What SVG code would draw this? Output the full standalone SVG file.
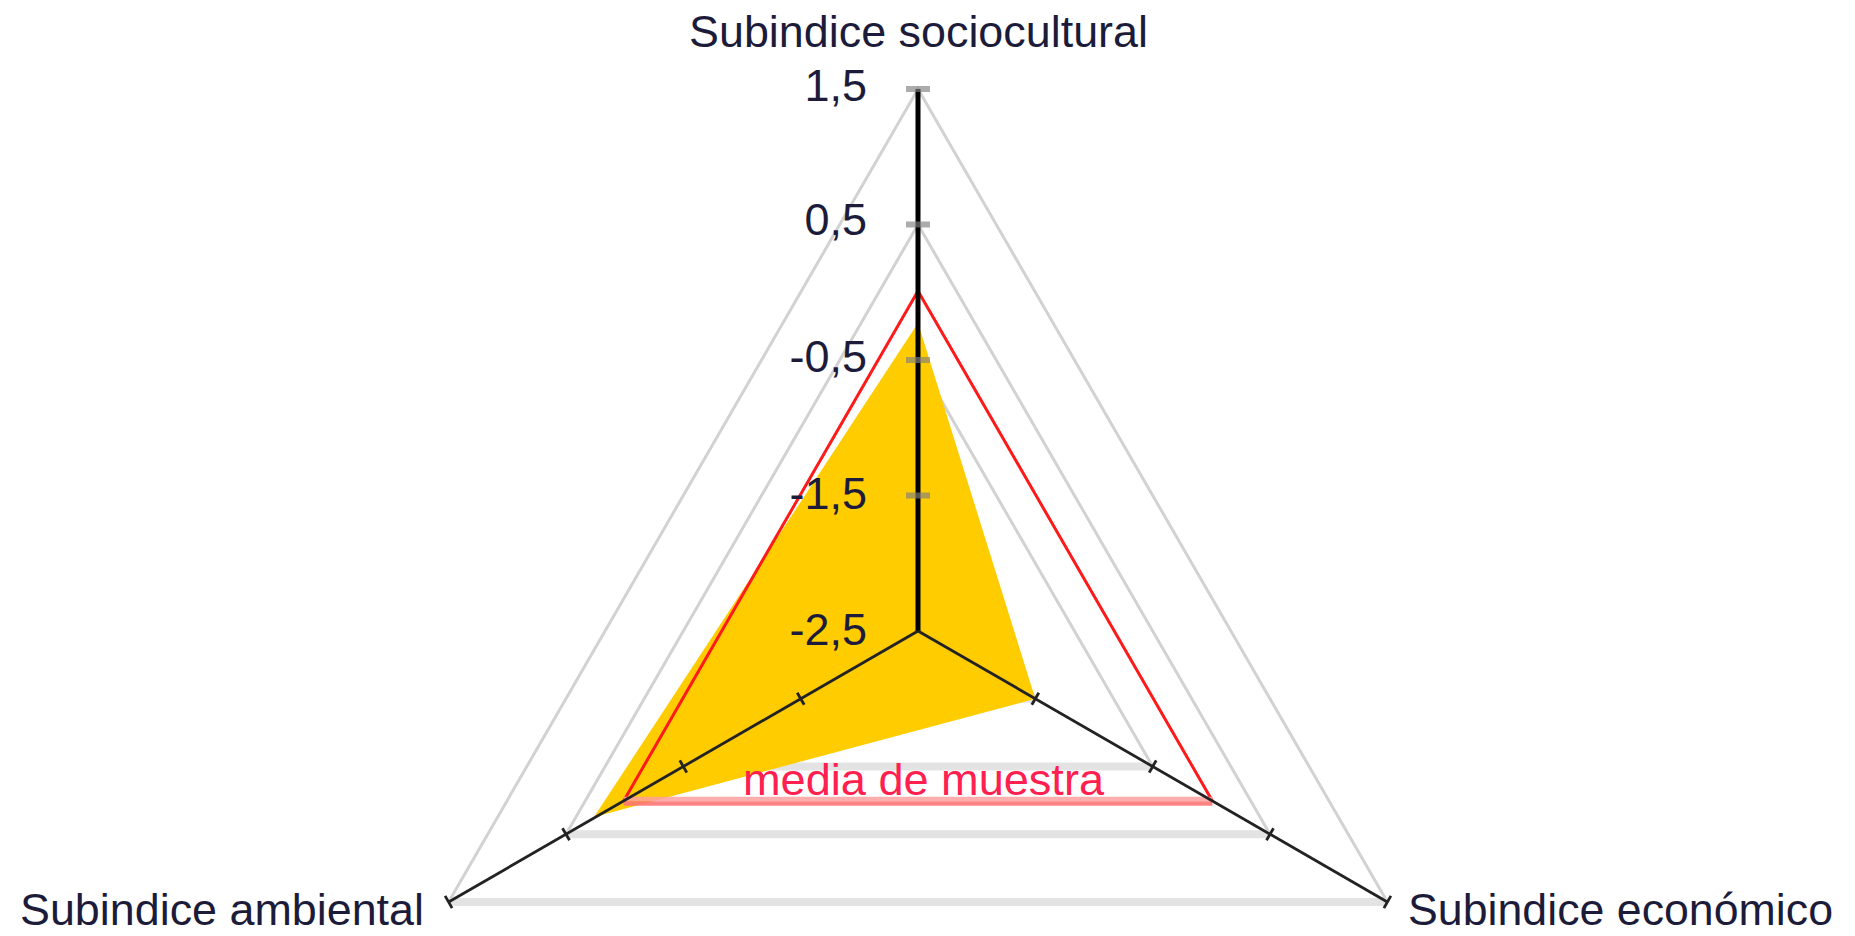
<svg xmlns="http://www.w3.org/2000/svg" width="1855" height="936" viewBox="0 0 1855 936">
<style>
.gside{fill:none;stroke:#d2d2d2;stroke-width:3}
.gbase{stroke:#e3e3e3;stroke-width:8}
.lbl{font-family:"Liberation Sans",Arial,sans-serif;font-size:45px;fill:#1c1c3a}
.tick{font-family:"Liberation Sans",Arial,sans-serif;font-size:45px;fill:#1c1c3a;text-anchor:end}
.ax{stroke:#222222;stroke-width:2.8;fill:none}
.vt{stroke:#808080;stroke-opacity:0.65;stroke-width:6}
</style>
<rect width="1855" height="936" fill="#ffffff"/>
<g id="grid">
<polyline class="gside" points="448.6,902 918,89 1387.4,902"/>
<polyline class="gside" points="566,834.25 918,224.5 1270,834.25"/>
<polyline class="gside" points="683.3,766.5 918,360 1152.7,766.5"/>
<polyline class="gside" points="800.7,698.75 918,495.5 1035.3,698.75"/>
<line class="gbase" x1="448.6" y1="902" x2="1387.4" y2="902"/>
<line class="gbase" x1="566" y1="834.25" x2="1270" y2="834.25"/>
<line class="gbase" x1="683.3" y1="766.5" x2="1152.7" y2="766.5"/>
<line class="gbase" x1="800.7" y1="698.75" x2="1035.3" y2="698.75"/>
</g>
<g id="serie-valor">
<polygon points="918,323 1035.3,698.75 594,817" fill="#ffcc00"/>
</g>
<g id="serie-media">
<polyline points="623.6,801 918,291 1212.4,801" fill="none" stroke="#ff1a1a" stroke-width="3"/>
<line x1="623.6" y1="799" x2="1212.4" y2="799" stroke="#ff9f9f" stroke-opacity="0.85" stroke-width="4.5"/>
<line x1="623.6" y1="803.5" x2="1212.4" y2="803.5" stroke="#ff7676" stroke-opacity="0.9" stroke-width="4.5"/>
</g>
<g id="connectors">
<line x1="918" y1="89" x2="918" y2="631" stroke="#000000" stroke-width="5"/>
<line class="ax" x1="918" y1="631" x2="448.6" y2="902"/>
<line class="ax" x1="918" y1="631" x2="1387.4" y2="902"/>
<line class="vt" x1="906" y1="89" x2="930" y2="89"/>
<line class="vt" x1="906" y1="224.5" x2="930" y2="224.5"/>
<line class="vt" x1="906" y1="360" x2="930" y2="360"/>
<line class="vt" x1="906" y1="495.5" x2="930" y2="495.5"/>
<line class="ax" x1="797.2" y1="692.7" x2="804.2" y2="704.8"/>
<line class="ax" x1="679.8" y1="760.4" x2="686.8" y2="772.6"/>
<line class="ax" x1="562.5" y1="828.2" x2="569.5" y2="840.3"/>
<line class="ax" x1="445.1" y1="895.9" x2="452.1" y2="908.1"/>
<line class="ax" x1="1038.8" y1="692.7" x2="1031.8" y2="704.8"/>
<line class="ax" x1="1156.2" y1="760.4" x2="1149.2" y2="772.6"/>
<line class="ax" x1="1273.5" y1="828.2" x2="1266.5" y2="840.3"/>
<line class="ax" x1="1390.9" y1="895.9" x2="1383.9" y2="908.1"/>
</g>
<g id="axis-labels">
<text class="tick" x="867" y="101">1,5</text>
<text class="tick" x="867" y="235">0,5</text>
<text class="tick" x="867" y="372">-0,5</text>
<text class="tick" x="867" y="509">-1,5</text>
<text class="tick" x="867" y="645">-2,5</text>
</g>
<g id="node-sociocultural">
<text class="lbl" x="689" y="47" textLength="459" lengthAdjust="spacingAndGlyphs">Subindice sociocultural</text>
</g>
<g id="node-ambiental">
<text class="lbl" x="20" y="925" textLength="404" lengthAdjust="spacingAndGlyphs">Subindice ambiental</text>
</g>
<g id="node-economico">
<text class="lbl" x="1408" y="925" textLength="425" lengthAdjust="spacingAndGlyphs">Subindice económico</text>
</g>
<g id="legend-media">
<text x="743" y="795" textLength="361" lengthAdjust="spacingAndGlyphs" style="font-family:'Liberation Sans',Arial,sans-serif;font-size:44px;fill:#ff2050">media de muestra</text>
</g>
</svg>
